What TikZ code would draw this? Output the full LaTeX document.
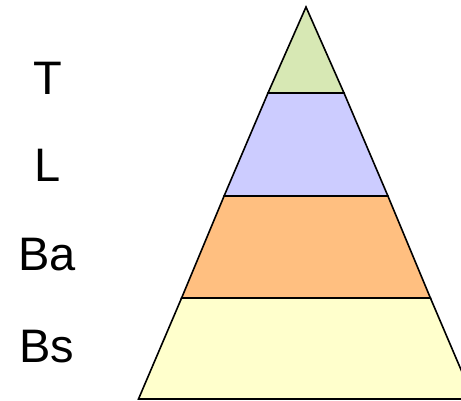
\documentclass[tikz,border=0pt]{standalone}
\usepackage{fontspec}
\setmainfont{Liberation Sans}
\begin{document}
\begin{tikzpicture}[x=1pt,y=-1pt,
  layer/.style={draw=black,line width=1.6pt,line join=miter},
  lab/.style={font=\fontsize{47}{47}\selectfont,anchor=base,inner sep=0pt}]
\definecolor{cT}{RGB}{215,232,180}
\definecolor{cL}{RGB}{204,204,255}
\definecolor{cBa}{RGB}{255,191,128}
\definecolor{cBs}{RGB}{255,255,204}
\useasboundingbox (0,0) rectangle (461,401);
\begin{scope}
\clip (0,0) rectangle (461,401);
% apex (306,7), slope 0.4265 per px
\coordinate (A) at (306,7);
\coordinate (L1) at (268.0,93);  \coordinate (R1) at (344.0,93);
\coordinate (L2) at (224.1,196); \coordinate (R2) at (387.9,196);
\coordinate (L3) at (181.6,298); \coordinate (R3) at (430.4,298);
\coordinate (L4) at (138.5,399); \coordinate (R4) at (473.5,399);
\filldraw[layer,fill=cBs] (L3) -- (R3) -- (R4) -- (L4) -- cycle;
\filldraw[layer,fill=cBa] (L2) -- (R2) -- (R3) -- (L3) -- cycle;
\filldraw[layer,fill=cL] (L1) -- (R1) -- (R2) -- (L2) -- cycle;
\filldraw[layer,fill=cT] (A) -- (R1) -- (L1) -- cycle;
\end{scope}
\node[lab] (tT) at (48,95) {T};
\node[lab] (tL) at (48,182) {L};
\node[lab] (tBa) at (47,270) {Ba};
\node[lab] (tBs) at (47,362) {Bs};
\end{tikzpicture}
\end{document}
